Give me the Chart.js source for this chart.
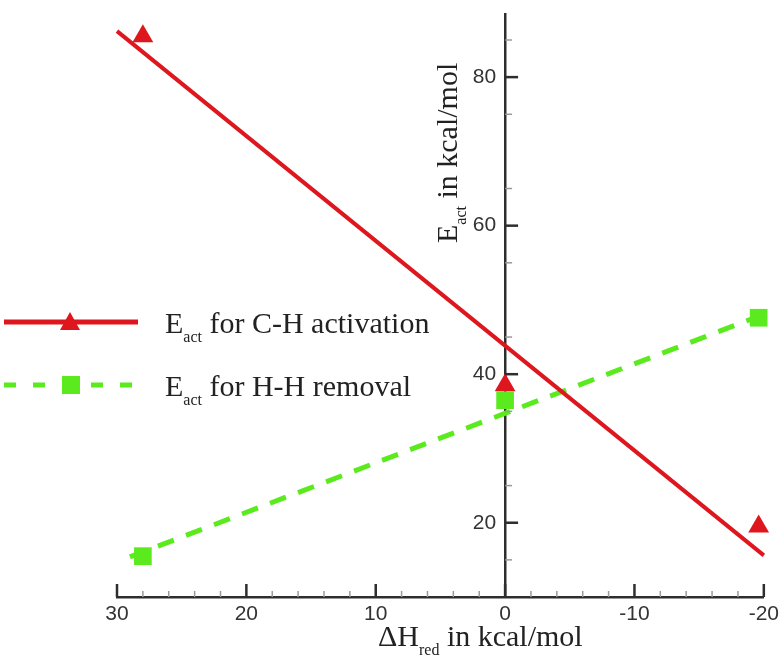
<!DOCTYPE html>
<html>
<head>
<meta charset="utf-8">
<script src="https://cdn.jsdelivr.net/npm/chart.js@4.4.1/dist/chart.umd.min.js"></script>
<style>
  html, body { margin: 0; background: #fff; }
  #wrap { width: 784px; height: 662px; }
</style>
</head>
<body>
<div id="wrap"><canvas id="chart"></canvas></div>
<script>
// values
const dH = [28, 0, -19.6];
const eCH = [85.5, 38.5, 19.5];
const eHH = [15.5, 36.5, 47.6];
// end points of the two straight lines
const lineCHx = [30, -20];
const lineCHy = [86.2, 15.6];
const lineHHx = [29, -19.6];
const lineHHy = [15.4, 47.8];
const xTicks = [30, 20, 10, 0, -10, -20];
const yTicks = [20, 40, 60, 80];

const RED = 'rgb(222,22,30)';
const GREEN = 'rgb(90,234,30)';
const AXIS = '#2e2e2e';
const SERIF = '"Liberation Serif", "Times New Roman", serif';
const SANS = '"Liberation Sans", Arial, sans-serif';

const pts = (xs, ys) => xs.map((x, i) => ({ x: x, y: ys[i] }));

// text with a subscript: parts = [text, size, drop]
function drawParts(ctx, parts, x, y) {
  parts.forEach(p => {
    ctx.font = p[1] + 'px ' + SERIF;
    ctx.fillText(p[0], x, y + p[2]);
    x += ctx.measureText(p[0]).width;
  });
}

const extras = {
  id: 'extras',
  afterDraw(chart) {
    const ctx = chart.ctx;
    const xs = chart.scales.x, ys = chart.scales.y;
    const x0 = xs.getPixelForValue(0);
    const yb = ys.getPixelForValue(ys.min);
    ctx.save();

    // minor + major ticks pointing into the plot
    ctx.strokeStyle = '#9a9a9a';
    ctx.lineWidth = 1.5;
    for (let v = -20; v <= 30; v += 2) {
      if (v % 10 === 0) continue;
      const px = xs.getPixelForValue(v);
      ctx.beginPath(); ctx.moveTo(px, yb); ctx.lineTo(px, yb - 6); ctx.stroke();
    }
    for (let v = 15; v <= 85; v += 10) {
      const py = ys.getPixelForValue(v);
      ctx.beginPath(); ctx.moveTo(x0, py); ctx.lineTo(x0 + 7, py); ctx.stroke();
    }
    ctx.strokeStyle = AXIS;
    ctx.lineWidth = 2.5;
    xTicks.forEach(v => {
      const px = xs.getPixelForValue(v);
      ctx.beginPath(); ctx.moveTo(px, yb); ctx.lineTo(px, yb - 13); ctx.stroke();
    });
    yTicks.forEach(v => {
      const py = ys.getPixelForValue(v);
      ctx.beginPath(); ctx.moveTo(x0, py); ctx.lineTo(x0 + 13, py); ctx.stroke();
    });

    // y tick labels, left of the axis
    ctx.fillStyle = '#333';
    ctx.font = '21px ' + SANS;
    ctx.textAlign = 'right';
    ctx.textBaseline = 'middle';
    yTicks.forEach(v => {
      ctx.fillText(String(v), x0 - 9, ys.getPixelForValue(v));
    });

    ctx.fillStyle = '#222';
    ctx.textAlign = 'left';
    ctx.textBaseline = 'alphabetic';

    // x title
    drawParts(ctx, [['\u0394H', 30, 0], ['red', 16, 9], [' in kcal/mol', 30, 0]], 378, 646);

    // y title (rotated)
    ctx.save();
    ctx.translate(457, 243);
    ctx.rotate(-Math.PI / 2);
    drawParts(ctx, [['E', 30, 0], ['act', 16, 9], [' in kcal/mol', 30, 0]], 0, 0);
    ctx.restore();

    // legend
    ctx.lineCap = 'butt';
    ctx.strokeStyle = RED;
    ctx.lineWidth = 5;
    ctx.beginPath(); ctx.moveTo(4, 322); ctx.lineTo(138, 322); ctx.stroke();
    ctx.fillStyle = RED;
    ctx.beginPath(); ctx.moveTo(70, 312); ctx.lineTo(80, 330); ctx.lineTo(60, 330); ctx.closePath(); ctx.fill();

    ctx.strokeStyle = GREEN;
    ctx.setLineDash([12, 17]);
    ctx.beginPath(); ctx.moveTo(4, 385); ctx.lineTo(138, 385); ctx.stroke();
    ctx.setLineDash([]);
    ctx.fillStyle = GREEN;
    ctx.fillRect(62, 376, 18, 18);

    ctx.fillStyle = '#222';
    drawParts(ctx, [['E', 30, 0], ['act', 16, 9], [' for C-H activation', 30, 0]], 165, 333);
    drawParts(ctx, [['E', 30, 0], ['act', 16, 9], [' for H-H removal', 30, 0]], 165, 396);

    ctx.restore();
  }
};

new Chart(document.getElementById('chart'), {
  type: 'scatter',
  data: {
    datasets: [
      {
        label: 'Eact for H-H removal (points)',
        data: pts(dH, eHH),
        pointStyle: 'rect',
        pointRadius: 12.5,
        backgroundColor: GREEN,
        borderWidth: 0,
        showLine: false,
        clip: false,
        order: 0
      },
      {
        label: 'Eact for C-H activation (points)',
        data: pts(dH, eCH),
        pointStyle: 'triangle',
        pointRadius: 12,
        backgroundColor: RED,
        borderWidth: 0,
        showLine: false,
        clip: false,
        order: 1
      },
      {
        label: 'Eact for C-H activation',
        data: pts(lineCHx, lineCHy),
        showLine: true,
        borderColor: RED,
        borderWidth: 4,
        pointRadius: 0,
        clip: false,
        order: 2
      },
      {
        label: 'Eact for H-H removal',
        data: pts(lineHHx, lineHHy),
        showLine: true,
        borderColor: GREEN,
        borderWidth: 5,
        borderDash: [17, 13],
        pointRadius: 0,
        clip: false,
        order: 3
      }
    ]
  },
  options: {
    responsive: true,
    maintainAspectRatio: false,
    animation: false,
    layout: { padding: { left: 117, right: 19, top: 14, bottom: 0 } },
    plugins: { legend: { display: false }, tooltip: { enabled: false } },
    scales: {
      x: {
        type: 'linear',
        reverse: true,
        min: -20,
        max: 30,
        z: 1,
        afterBuildTicks: s => { s.ticks = xTicks.map(v => ({ value: v })); },
        afterFit: s => { s.height = 65; },
        grid: { display: false, drawTicks: false },
        border: { display: true, color: AXIS, width: 2.5 },
        ticks: {
          padding: 5,
          color: '#333',
          font: { family: SANS, size: 21 },
          maxRotation: 0,
          autoSkip: false
        }
      },
      y: {
        type: 'linear',
        position: { x: 0 },
        min: 10,
        max: 88.5,
        z: 1,
        afterBuildTicks: s => { s.ticks = yTicks.map(v => ({ value: v })); },
        grid: { display: false, drawTicks: false },
        border: { display: true, color: AXIS, width: 2.5 },
        ticks: { display: false }
      }
    }
  },
  plugins: [extras]
});
</script>
</body>
</html>
